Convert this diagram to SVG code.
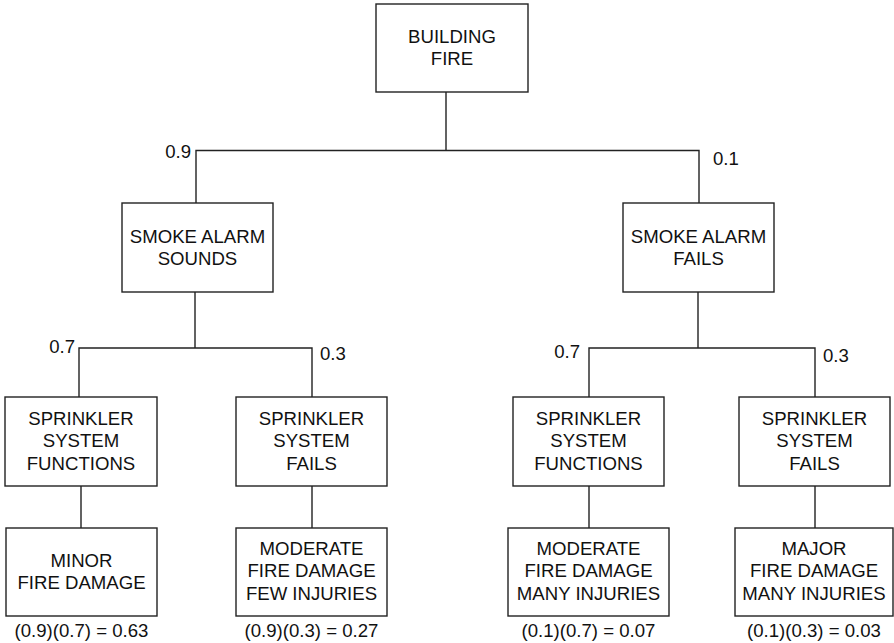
<svg xmlns="http://www.w3.org/2000/svg" width="894" height="643" viewBox="0 0 894 643">
  <style>
    .box { fill: #fff; stroke: #222; stroke-width: 1.4; }
    .wire { fill: none; stroke: #222; stroke-width: 1.4; }
    text { font-family: "Liberation Sans", Arial, sans-serif; font-size: 18.6px; fill: #111; }
    .c { text-anchor: middle; }
    .e { text-anchor: end; }
  </style>
  <rect width="894" height="643" fill="#fff"/>

  <!-- connectors -->
  <g id="connectors" class="wire">
    <path d="M446 92 V150.5 M196 203 V150.5 H699 V203"/>
    <path d="M195 292 V348 M79 397 V348 H312 V397"/>
    <path d="M698 292 V348 M589 397 V348 H815 V397"/>
    <path d="M81 486 V528 M312 486 V528 M589 486 V528 M815 486 V528"/>
  </g>

  <!-- branch probabilities -->
  <g id="probabilities">
    <text x="191" y="158" class="e">0.9</text>
    <text x="713" y="165">0.1</text>
    <text x="75" y="353" class="e">0.7</text>
    <text x="320" y="360">0.3</text>
    <text x="580" y="358" class="e">0.7</text>
    <text x="823" y="362">0.3</text>
  </g>

  <g id="building-fire">
    <rect class="box" x="376" y="4" width="152" height="88"/>
    <text x="452" y="43" class="c">BUILDING</text>
    <text x="452" y="65" class="c">FIRE</text>
  </g>

  <g id="alarm-sounds">
    <rect class="box" x="122" y="203" width="151" height="89"/>
    <text x="197.5" y="243" class="c">SMOKE ALARM</text>
    <text x="197.5" y="265" class="c">SOUNDS</text>
  </g>

  <g id="alarm-fails">
    <rect class="box" x="623" y="203" width="151" height="89"/>
    <text x="698.5" y="243" class="c">SMOKE ALARM</text>
    <text x="698.5" y="265" class="c">FAILS</text>
  </g>

  <g id="sprinkler-functions-1">
    <rect class="box" x="5" y="397" width="152" height="89"/>
    <text x="81" y="425" class="c">SPRINKLER</text>
    <text x="81" y="447" class="c">SYSTEM</text>
    <text x="81" y="470" class="c">FUNCTIONS</text>
  </g>

  <g id="sprinkler-fails-1">
    <rect class="box" x="236" y="397" width="151" height="89"/>
    <text x="311.5" y="425" class="c">SPRINKLER</text>
    <text x="311.5" y="447" class="c">SYSTEM</text>
    <text x="311.5" y="470" class="c">FAILS</text>
  </g>

  <g id="sprinkler-functions-2">
    <rect class="box" x="513" y="397" width="151" height="89"/>
    <text x="588.5" y="425" class="c">SPRINKLER</text>
    <text x="588.5" y="447" class="c">SYSTEM</text>
    <text x="588.5" y="470" class="c">FUNCTIONS</text>
  </g>

  <g id="sprinkler-fails-2">
    <rect class="box" x="739" y="397" width="151" height="89"/>
    <text x="814.5" y="425" class="c">SPRINKLER</text>
    <text x="814.5" y="447" class="c">SYSTEM</text>
    <text x="814.5" y="470" class="c">FAILS</text>
  </g>

  <g id="outcome-minor">
    <rect class="box" x="6" y="528" width="151" height="88"/>
    <text x="81.5" y="567" class="c">MINOR</text>
    <text x="81.5" y="589" class="c">FIRE DAMAGE</text>
    <text x="81.5" y="637" class="c">(0.9)(0.7) = 0.63</text>
  </g>

  <g id="outcome-moderate-few">
    <rect class="box" x="236" y="528" width="151" height="88"/>
    <text x="311.5" y="555" class="c">MODERATE</text>
    <text x="311.5" y="577" class="c">FIRE DAMAGE</text>
    <text x="311.5" y="600" class="c">FEW INJURIES</text>
    <text x="311.5" y="637" class="c">(0.9)(0.3) = 0.27</text>
  </g>

  <g id="outcome-moderate-many">
    <rect class="box" x="508" y="528" width="161" height="88"/>
    <text x="588.5" y="555" class="c">MODERATE</text>
    <text x="588.5" y="577" class="c">FIRE DAMAGE</text>
    <text x="588.5" y="600" class="c">MANY INJURIES</text>
    <text x="588.5" y="637" class="c">(0.1)(0.7) = 0.07</text>
  </g>

  <g id="outcome-major">
    <rect class="box" x="735" y="528" width="158" height="88"/>
    <text x="814" y="555" class="c">MAJOR</text>
    <text x="814" y="577" class="c">FIRE DAMAGE</text>
    <text x="814" y="600" class="c">MANY INJURIES</text>
    <text x="814" y="637" class="c">(0.1)(0.3) = 0.03</text>
  </g>
</svg>
